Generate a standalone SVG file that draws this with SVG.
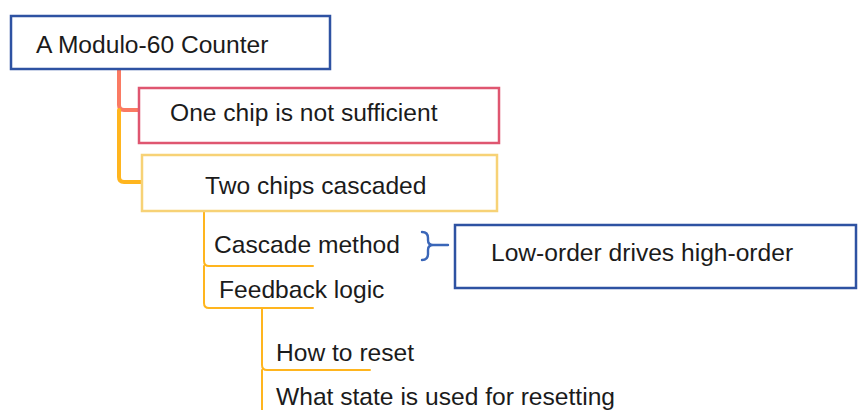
<svg xmlns="http://www.w3.org/2000/svg" width="858" height="410" viewBox="0 0 858 410">
<style>
text{font-family:"Liberation Sans",Arial,sans-serif;font-size:24.6px;fill:#1b1b1b}
.box{fill:#fff;stroke-width:2.5}
.c{fill:none;stroke-linecap:round;stroke-linejoin:round}
</style>
<rect width="858" height="410" fill="#fff"/>
<g id="connectors">
<path class="c" d="M119,69 V105 Q119,110 124,110 H139" stroke="#fa7a63" stroke-width="4"/>
<path class="c" d="M119,110 V177 Q119,182 124,182 H142" stroke="#ffb51e" stroke-width="4"/>
<path class="c" d="M204,210 V261 Q204,266 209,266 H313 M204,266 V303 Q204,308 209,308 H313" stroke="#ffb51e" stroke-width="2"/>
<path class="c" d="M262,308 V365 Q262,370 267,370 H370 M262,370 V412" stroke="#ffb51e" stroke-width="2"/>
<path class="c" d="M422,232 Q428,232 428,238 V240 Q428,245 433,245 Q428,245 428,250 V254 Q428,260 422,260 M433,245 H448" stroke="#3a66b8" stroke-width="2.4"/>
</g>
<g id="root">
<rect class="box" x="11" y="16" width="319" height="53" stroke="#2e52a2"/>
<text x="36" y="53">A Modulo-60 Counter</text>
</g>
<g id="one-chip">
<rect class="box" x="139" y="88" width="360" height="55" stroke="#df5670"/>
<text x="170" y="121">One chip is not sufficient</text>
</g>
<g id="two-chips">
<rect class="box" x="142" y="155" width="355" height="56" stroke="#f7d276"/>
<text x="205" y="194">Two chips cascaded</text>
</g>
<g id="cascade-method">
<text x="214" y="253">Cascade method</text>
</g>
<g id="feedback-logic">
<text x="219" y="298">Feedback logic</text>
</g>
<g id="low-order">
<rect class="box" x="455" y="225" width="401" height="63" stroke="#2e52a2"/>
<text x="491" y="261">Low-order drives high-order</text>
</g>
<g id="how-to-reset">
<text x="276" y="361">How to reset</text>
</g>
<g id="what-state">
<text x="276" y="405">What state is used for resetting</text>
</g>
</svg>
